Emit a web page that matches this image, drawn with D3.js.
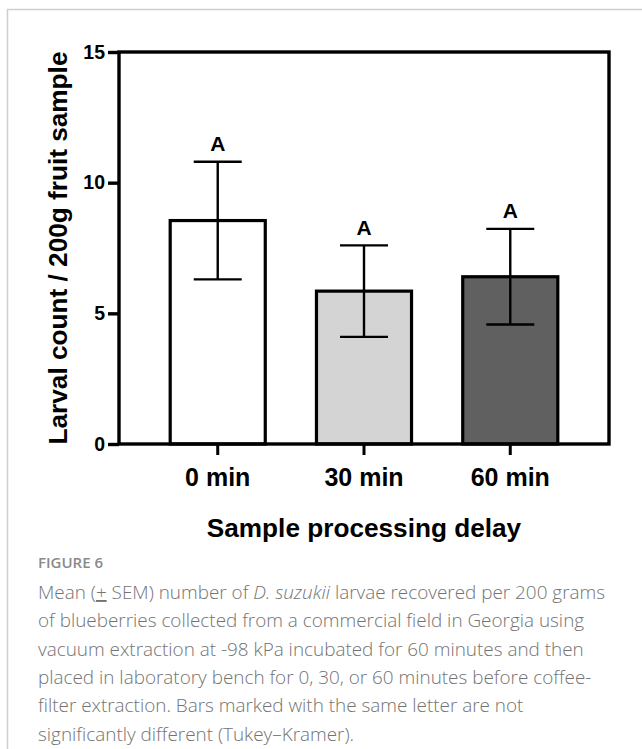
<!DOCTYPE html>
<html>
<head>
<meta charset="utf-8">
<script src="https://cdn.jsdelivr.net/npm/d3@7"></script>
<style>
  body { margin: 0; background: #fff; }
</style>
</head>
<body>
<div id="chart"></div>
<script>
const categories = ["0 min", "30 min", "60 min"];
const means = [8.55, 5.85, 6.4];
const sems = [2.25, 1.75, 1.83];
const letters = ["A", "A", "A"];
const yTicks = [0, 5, 10, 15];
const captionLines = [
  ["Mean (", {u: "+"}, " SEM) number of ", {i: "D. suzukii"}, " larvae recovered per 200 grams"],
  ["of blueberries collected from a commercial field in Georgia using"],
  ["vacuum extraction at -98 kPa incubated for 60 minutes and then"],
  ["placed in laboratory bench for 0, 30, or 60 minutes before coffee-"],
  ["filter extraction. Bars marked with the same letter are not"],
  ["significantly different (Tukey\u2013Kramer)."]
];

const width = 642, height = 749;
const fills = ["#ffffff", "#d4d4d4", "#606060"];
const font = "'Liberation Sans', Arial, sans-serif";

const svg = d3.select('#chart').append('svg')
  .attr('width', width)
  .attr('height', height);

// light frame round the figure
svg.append('path')
  .attr('d', 'M7.5,' + height + 'V9.5H' + width)
  .attr('fill', 'none')
  .attr('stroke', '#cfcfcf')
  .attr('stroke-width', 1.5);

const plot = {left: 119, right: 609, top: 52, bottom: 444};

const x = d3.scaleBand().domain(categories)
  .range([plot.left, plot.right])
  .paddingInner(0.35).paddingOuter(0.35);
const y = d3.scaleLinear().domain([0, 15]).range([plot.bottom, plot.top]);

const data = categories.map((c, i) => ({cat: c, mean: means[i], sem: sems[i], letter: letters[i], fill: fills[i]}));

// bars
svg.selectAll('.bar').data(data).enter().append('rect')
  .attr('class', 'bar')
  .attr('x', d => x(d.cat))
  .attr('width', x.bandwidth())
  .attr('y', d => y(d.mean))
  .attr('height', d => y(0) - y(d.mean))
  .attr('fill', d => d.fill)
  .attr('stroke', '#000')
  .attr('stroke-width', 3.2);

// error bars
const capHalf = 24;
const err = svg.selectAll('.err').data(data).enter().append('g')
  .attr('class', 'err')
  .attr('transform', d => 'translate(' + (x(d.cat) + x.bandwidth() / 2) + ',0)')
  .attr('stroke', '#000')
  .attr('stroke-width', 2.4);
err.append('line')
  .attr('y1', d => y(d.mean + d.sem)).attr('y2', d => y(d.mean - d.sem));
err.append('line')
  .attr('x1', -capHalf).attr('x2', capHalf)
  .attr('y1', d => y(d.mean + d.sem)).attr('y2', d => y(d.mean + d.sem));
err.append('line')
  .attr('x1', -capHalf).attr('x2', capHalf)
  .attr('y1', d => y(d.mean - d.sem)).attr('y2', d => y(d.mean - d.sem));

// significance letters
svg.selectAll('.letter').data(data).enter().append('text')
  .attr('class', 'letter')
  .attr('x', d => x(d.cat) + x.bandwidth() / 2)
  .attr('y', d => y(d.mean + d.sem) - 10.5)
  .attr('text-anchor', 'middle')
  .style('font-family', font)
  .style('font-weight', 'bold')
  .style('font-size', '21px')
  .text(d => d.letter);

// box frame
svg.append('rect')
  .attr('x', plot.left).attr('y', plot.top)
  .attr('width', plot.right - plot.left).attr('height', plot.bottom - plot.top)
  .attr('fill', 'none')
  .attr('stroke', '#000')
  .attr('stroke-width', 3.4);

// y axis
const yAxis = svg.append('g')
  .attr('transform', 'translate(' + plot.left + ',0)')
  .call(d3.axisLeft(y).tickValues(yTicks).tickSize(11).tickPadding(3));
yAxis.select('.domain').remove();
yAxis.selectAll('line').attr('stroke-width', 3.4);
yAxis.selectAll('text')
  .style('font-family', font)
  .style('font-weight', 'bold')
  .style('font-size', '19.5px')
  .attr('fill', '#000');

// x axis
const xAxis = svg.append('g')
  .attr('transform', 'translate(0,' + plot.bottom + ')')
  .call(d3.axisBottom(x).tickSize(11).tickPadding(13));
xAxis.select('.domain').remove();
xAxis.selectAll('line').attr('stroke-width', 3);
xAxis.selectAll('text')
  .style('font-family', font)
  .style('font-weight', 'bold')
  .style('font-size', '25px')
  .attr('fill', '#000');

// axis titles
svg.append('text')
  .attr('transform', 'translate(67,' + (plot.top + plot.bottom) / 2 + ') rotate(-90)')
  .attr('text-anchor', 'middle')
  .style('font-family', font)
  .style('font-weight', 'bold')
  .style('font-size', '26.2px')
  .text('Larval count / 200g fruit sample');

svg.append('text')
  .attr('x', (plot.left + plot.right) / 2)
  .attr('y', 537)
  .attr('text-anchor', 'middle')
  .style('font-family', font)
  .style('font-weight', 'bold')
  .style('font-size', '26.2px')
  .text('Sample processing delay');

// caption
svg.append('text')
  .attr('x', 38).attr('y', 568)
  .style('font-family', "'Open Sans', sans-serif")
  .style('font-weight', 600)
  .style('font-size', '15px')
  .attr('fill', '#8a8a8a')
  .text('FIGURE 6');

const cap = svg.append('g')
  .style('font-family', "'Open Sans', sans-serif")
  .style('font-weight', 300)
  .style('font-size', '18.9px')
  .attr('fill', '#737373');
captionLines.forEach((parts, i) => {
  const t = cap.append('text').attr('x', 38).attr('y', 599 + i * 28.3);
  parts.forEach(p => {
    if (typeof p === 'string') t.append('tspan').text(p);
    else if (p.i) t.append('tspan').style('font-style', 'italic').text(p.i);
    else if (p.u) t.append('tspan').style('text-decoration', 'underline').text(p.u);
  });
});
</script>
</body>
</html>
